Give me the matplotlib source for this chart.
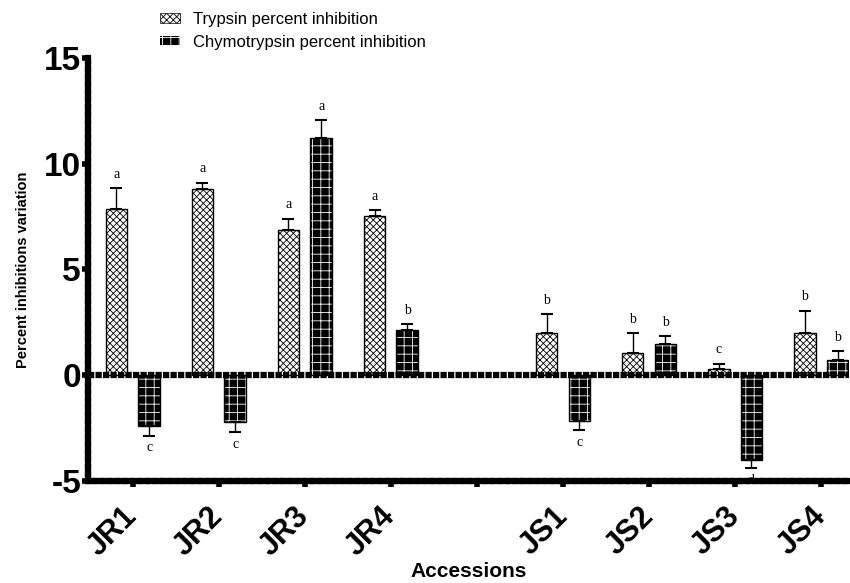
import numpy as np
import matplotlib.pyplot as plt
from matplotlib.patches import Patch

# data
accessions = ['JR1', 'JR2', 'JR3', 'JR4', '', 'JS1', 'JS2', 'JS3', 'JS4']
positions = [0, 1, 2, 3, 5, 6, 7, 8]
trypsin = [7.85, 8.8, 6.85, 7.55, 2.0, 1.05, 0.3, 2.0]
trypsin_err = [1.0, 0.3, 0.55, 0.25, 0.9, 0.95, 0.25, 1.05]
trypsin_letters = ['a', 'a', 'a', 'a', 'b', 'b', 'c', 'b']
chymo = [-2.4, -2.2, 11.2, 2.15, -2.15, 1.5, -4.0, 0.7]
chymo_err = [0.45, 0.5, 0.85, 0.25, 0.45, 0.35, 0.4, 0.45]
chymo_letters = ['c', 'c', 'a', 'b', 'c', 'b', 'd', 'b']

plt.rcParams['font.family'] = ['Liberation Sans', 'DejaVu Sans']
plt.rcParams['hatch.linewidth'] = 0.6
plt.rcParams['axes.unicode_minus'] = False

fig = plt.figure(figsize=(8.5, 5.83), dpi=100)
ax = fig.add_axes([0.1035, 0.175, 0.895, 0.7255])

x = np.array(positions, dtype=float)
w = 0.25
off = 0.19
xt = x - off
xc = x + off

# trypsin bars: white with black texture
ax.bar(xt, trypsin, w, color='white', edgecolor='black', hatch='xxxxx', linewidth=1, zorder=2)

# chymotrypsin bars: black with white brick lines
ax.bar(xc, chymo, w, color='black', edgecolor='white', hatch='++', linewidth=0, zorder=2)
ax.bar(xc, chymo, w, fill=False, edgecolor='black', linewidth=1, zorder=2)


def one_sided(vals, errs):
    lo = [e if v < 0 else 0 for v, e in zip(vals, errs)]
    hi = [e if v >= 0 else 0 for v, e in zip(vals, errs)]
    return [lo, hi]


ax.errorbar(xt, trypsin, yerr=one_sided(trypsin, trypsin_err), fmt='none',
            ecolor='black', elinewidth=1, capsize=4, capthick=1.5, zorder=3)
ax.errorbar(xc, chymo, yerr=one_sided(chymo, chymo_err), fmt='none',
            ecolor='black', elinewidth=1, capsize=4, capthick=1.5, zorder=3)

serif = ['Liberation Serif', 'DejaVu Serif']
for xs, vals, errs, labs in [(xt, trypsin, trypsin_err, trypsin_letters),
                             (xc, chymo, chymo_err, chymo_letters)]:
    for xi, v, e, lab in zip(xs, vals, errs, labs):
        if v >= 0:
            ax.text(xi, v + e + 0.35, lab, ha='center', va='bottom', fontsize=10, family=serif)
        else:
            ax.text(xi, v - e - 0.25, lab, ha='center', va='top', fontsize=10, family=serif)

# zero line and axes drawn as heavy notched lines
ax.axhline(0, color='black', linewidth=4.5, linestyle=(0, (1.0, 0.2)), zorder=4)
for side in ['left', 'bottom']:
    ax.spines[side].set_linewidth(4.5)
    ax.spines[side].set_linestyle((0, (1.0, 0.2)))
ax.spines['top'].set_visible(False)
ax.spines['right'].set_visible(False)

ax.set_xlim(-0.52, 8.32)
ax.set_ylim(-5, 15)
ax.set_yticks([-5, 0, 5, 10, 15])
ax.set_xticks(range(9))
ax.set_xticklabels(accessions, rotation=45, ha='right', va='center', rotation_mode='anchor',
                   fontsize=22, fontweight='bold')
ax.tick_params(axis='y', labelsize=24, width=4, length=4, pad=1)
for t in ax.get_yticklabels():
    t.set_fontweight('bold')
ax.tick_params(axis='x', width=4, length=4, pad=18)

ax.set_ylabel('Percent inhibitions variation', fontsize=10.5, fontweight='bold', labelpad=10)
ax.set_xlabel('Accessions', fontsize=15, fontweight='bold', labelpad=0)

handles = [Patch(facecolor='white', edgecolor='black', hatch='xxxxx', linewidth=0.5),
           Patch(facecolor='black', edgecolor='white', hatch='++', linewidth=0)]
fig.legend(handles, ['Trypsin percent inhibition', 'Chymotrypsin percent inhibition'],
           loc='upper left', bbox_to_anchor=(0.17, 1.005), frameon=False, fontsize=12,
           handlelength=1.2, handleheight=0.5, handletextpad=0.8, labelspacing=0.45)

plt.savefig('out.png', dpi=100)
